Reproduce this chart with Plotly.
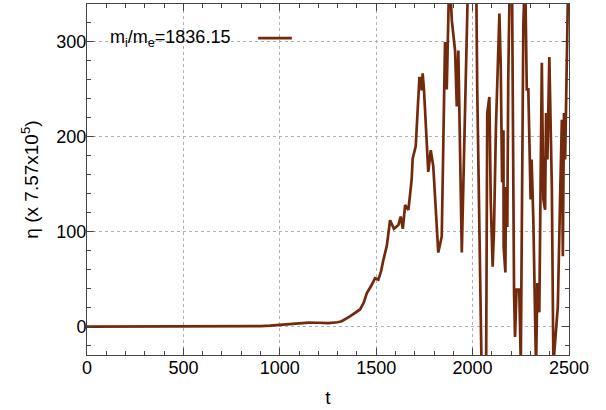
import plotly.graph_objects as go

# eta(t), clipped peaks estimated
t = [0, 100, 200, 300, 400, 500, 600, 700, 800, 900, 950, 1000, 1050, 1100,
     1150, 1200, 1250, 1300, 1321, 1364, 1390, 1416, 1435, 1451, 1477, 1494,
     1511, 1525, 1537, 1555, 1572, 1592, 1615, 1627, 1638, 1650, 1667, 1684,
     1689, 1705, 1724, 1731, 1736, 1741, 1748, 1770, 1783, 1796, 1822, 1840,
     1857, 1866, 1880, 1892, 1909, 1918, 1926, 1944, 1978, 2018, 2024, 2047,
     2070, 2076, 2087, 2094, 2104, 2111, 2121, 2139, 2146, 2153, 2160, 2161,
     2170, 2173, 2180, 2185, 2194, 2204, 2215, 2220, 2228, 2242, 2250, 2263,
     2272, 2281, 2289, 2301, 2306, 2315, 2329, 2336, 2346, 2359, 2367, 2376,
     2381, 2388, 2398, 2411, 2419, 2433, 2442, 2454, 2463, 2468, 2474, 2480,
     2488, 2497, 2500]
eta = [0, 0, 0, 0, 0, 0, 0, 0, 0.2, 0.5, 1, 1.8, 2.6, 3.5,
       4.2, 4, 3.6, 4.5, 5.6, 10.8, 14, 18, 25, 35, 44, 51,
       49.5, 58, 70, 85, 112, 103, 107, 116, 103, 128, 123, 155,
       177, 190, 262, 262, 249, 267, 249, 163, 186, 169, 78, 95,
       300, 250, 380, 323, 291, 232, 291, 78, 380, 380, 250, -50,
       -50, 225, 242, 134, 63, 102, 210, 330, 274, 152, 207, 84,
       57, 147, 105, 263, 380, 380, 36, -11, 39, 39, -40, 316,
       380, 250, 250, 134, 176, 113, -45, 46, 15, 278, 134, 123,
       225, 176, 284, 147, -40, -6, 21, 137, 218, 74, 225, 176,
       299, 380, 360]

line_color = '#732a0c'
font = 'Liberation Sans, Arial, sans-serif'

fig = go.Figure()
fig.add_trace(go.Scatter(x=t, y=eta, mode='lines', line=dict(color=line_color, width=2.7),
                         showlegend=False))

axis_style = dict(showline=True, linecolor='#444444', linewidth=1, mirror='allticks',
                  ticks='inside', ticklen=7, tickcolor='#444444', automargin=False,
                  showgrid=True, gridcolor='#b0b0b0', griddash='dot', gridwidth=1,
                  zeroline=False, tickfont=dict(size=18, color='black'))

fig.update_xaxes(range=[0, 2500], dtick=500, ticklabelstandoff=-4,
                 title=dict(text='t', font=dict(size=19), standoff=14),
                 minor=dict(dtick=100, ticks='inside', ticklen=4, tickcolor='#444444', showgrid=False),
                 **axis_style)
fig.update_yaxes(range=[-30, 340], tickvals=[0, 100, 200, 300], ticklabelstandoff=-4,
                 title=dict(text='η (x 7.57x10<sup>5</sup>)', font=dict(size=19), standoff=12),
                 minor=dict(dtick=20, ticks='inside', ticklen=4, tickcolor='#444444', showgrid=False),
                 **axis_style)

# gnuplot style key: text then line sample
fig.add_annotation(text='m<sub>i</sub>/m<sub>e</sub>=1836.15', xref='paper', yref='paper',
                   x=0.043, y=0.903, xanchor='left', yanchor='middle', showarrow=False,
                   font=dict(size=18, color='black'))
fig.add_shape(type='line', xref='paper', yref='paper', x0=0.355, x1=0.425, y0=0.903, y1=0.903,
              line=dict(color=line_color, width=2.7))

fig.update_layout(width=606, height=410, margin=dict(l=87, r=37, t=4, b=55),
                  plot_bgcolor='white', paper_bgcolor='white',
                  font=dict(family=font, size=18, color='black'))

# drop the page's default body margin so the figure sits at the window corner
fig.write_html("out.html", config={'displayModeBar': False},
               post_script="document.body.style.margin='0';")
